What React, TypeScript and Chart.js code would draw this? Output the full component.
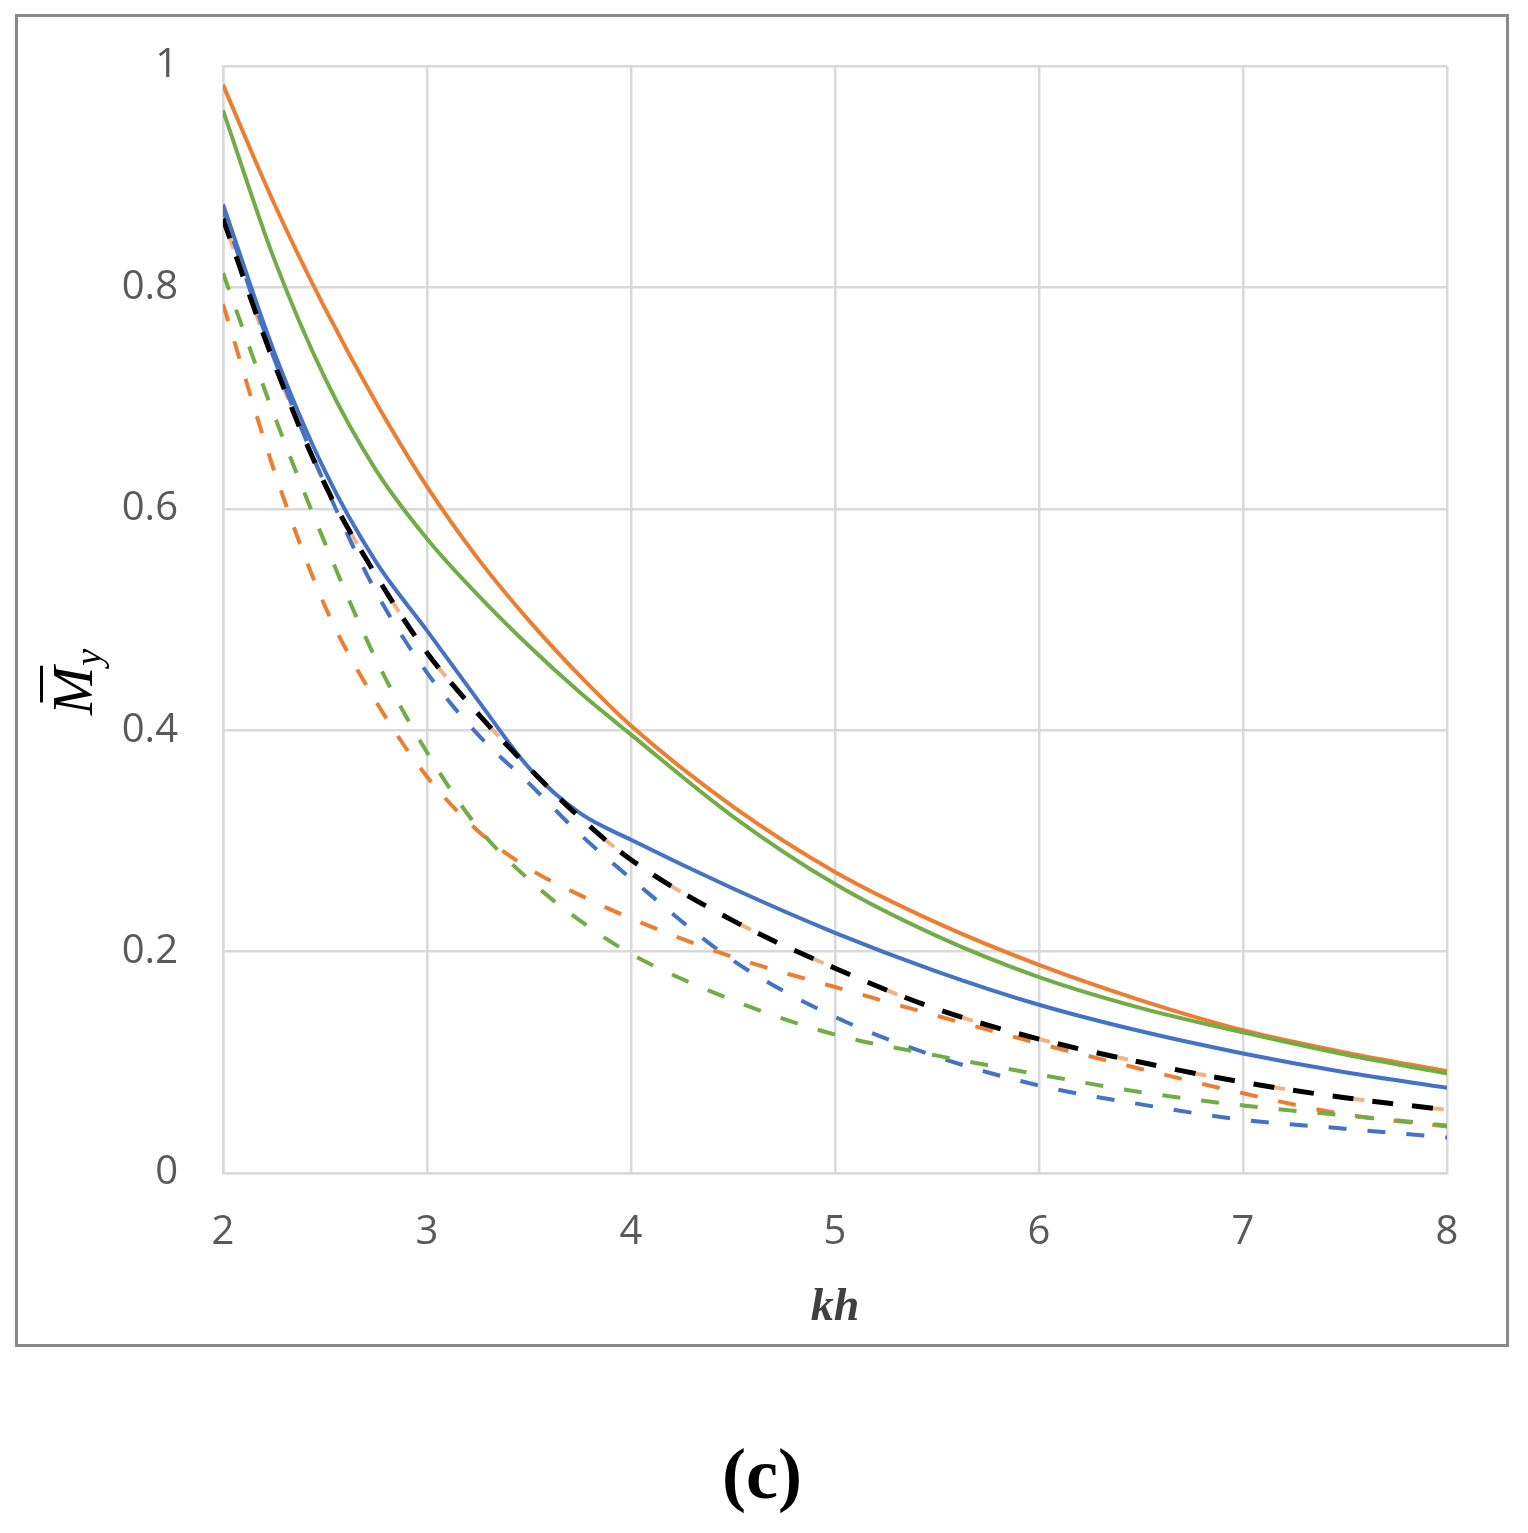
import React, { useEffect, useRef } from "react";
import { Chart, registerables } from "chart.js";

Chart.register(...registerables);

// kh values (x axis)
const khValues = [2, 2.25, 2.5, 2.75, 3, 3.25, 3.5, 3.75, 4, 4.5, 5, 5.5, 6, 6.5, 7, 7.5, 8];

// Solid curves
const solidOrange = [0.983, 0.876, 0.781, 0.696, 0.62, 0.555, 0.499, 0.449, 0.404, 0.331, 0.272, 0.226, 0.188, 0.156, 0.129, 0.109, 0.092];
const solidGreen = [0.96, 0.826, 0.718, 0.635, 0.573, 0.522, 0.476, 0.434, 0.396, 0.322, 0.261, 0.214, 0.177, 0.149, 0.127, 0.107, 0.09];
const solidBlue = [0.875, 0.742, 0.634, 0.552, 0.49, 0.427, 0.366, 0.325, 0.301, 0.257, 0.217, 0.182, 0.152, 0.128, 0.108, 0.091, 0.077];

// Dashed curves
const dashedBlack = [0.862, 0.732, 0.622, 0.54, 0.47, 0.415, 0.366, 0.321, 0.283, 0.228, 0.185, 0.148, 0.121, 0.1, 0.082, 0.068, 0.057];
const dashedBlue = [0.87, 0.736, 0.622, 0.525, 0.452, 0.396, 0.352, 0.306, 0.266, 0.192, 0.141, 0.105, 0.079, 0.062, 0.048, 0.04, 0.032];
const dashedOrange = [0.785, 0.635, 0.512, 0.426, 0.358, 0.309, 0.275, 0.251, 0.23, 0.195, 0.168, 0.142, 0.117, 0.094, 0.072, 0.053, 0.042];
const dashedGreen = [0.813, 0.685, 0.569, 0.464, 0.38, 0.312, 0.265, 0.228, 0.198, 0.156, 0.125, 0.106, 0.089, 0.073, 0.061, 0.052, 0.043];
const dashedSalmon = [0.862, 0.732, 0.622, 0.54, 0.47, 0.415, 0.366, 0.321, 0.283, 0.228, 0.185, 0.148, 0.121, 0.1, 0.082, 0.068, 0.057];

const xTickValues = [2, 3, 4, 5, 6, 7, 8];
const yTickLabels = ["0", "0.2", "0.4", "0.6", "0.8", "1"];

const xTitle = "kh";
const yTitleMain = "M";
const yTitleSub = "y";

const pts = (ys: number[]) => ys.map((y, i) => ({ x: khValues[i], y }));

const titlePlugin = {
  id: "axisTitles",
  afterDraw(chart: any) {
    const ctx = chart.ctx as CanvasRenderingContext2D;
    const area = chart.chartArea;
    ctx.save();
    ctx.fillStyle = "#404040";
    ctx.font = "italic bold 46px 'Liberation Serif', serif";
    ctx.textAlign = "center";
    ctx.textBaseline = "alphabetic";
    ctx.fillText(xTitle, (area.left + area.right) / 2, 1303);
    ctx.restore();

    ctx.save();
    ctx.translate(74, 698);
    ctx.rotate(-Math.PI / 2);
    ctx.fillStyle = "#000000";
    ctx.font = "italic 58px 'Liberation Serif', serif";
    ctx.textAlign = "left";
    ctx.textBaseline = "alphabetic";
    ctx.fillText(yTitleMain, 0, 0);
    const w = ctx.measureText(yTitleMain).width;
    ctx.fillRect(w * 0.26, -52, w * 0.76, 3);
    ctx.font = "italic 38px 'Liberation Serif', serif";
    ctx.fillText(yTitleSub, w + 1, 9);
    ctx.restore();
  },
};

export default function App() {
  const canvasRef = useRef<HTMLCanvasElement | null>(null);

  useEffect(() => {
    if (!canvasRef.current) return;
    const colDash = [18, 21];
    const base = {
      pointRadius: 0,
      pointHoverRadius: 0,
      fill: false,
      cubicInterpolationMode: "monotone" as const,
      borderCapStyle: "butt" as const,
    };
    const chart = new Chart(canvasRef.current, {
      type: "line",
      data: {
        datasets: [
          { ...base, label: "Dashed black", data: pts(dashedBlack), borderColor: "#000000", borderWidth: 5, borderDash: [21, 19] },
          { ...base, label: "Solid green", data: pts(solidGreen), borderColor: "#70AD47", borderWidth: 4 },
          { ...base, label: "Solid orange", data: pts(solidOrange), borderColor: "#ED7D31", borderWidth: 4 },
          { ...base, label: "Solid blue", data: pts(solidBlue), borderColor: "#4472C4", borderWidth: 4 },
          { ...base, label: "Dashed green", data: pts(dashedGreen), borderColor: "#70AD47", borderWidth: 4, borderDash: colDash },
          { ...base, label: "Dashed orange", data: pts(dashedOrange), borderColor: "#ED7D31", borderWidth: 4, borderDash: colDash },
          { ...base, label: "Dashed blue", data: pts(dashedBlue), borderColor: "#4472C4", borderWidth: 4, borderDash: colDash, borderDashOffset: 6 },
          { ...base, label: "Dashed light orange", data: pts(dashedSalmon), borderColor: "#F4B183", borderWidth: 4, borderDash: [12, 68], borderDashOffset: -20 },
        ],
      },
      options: {
        responsive: false,
        animation: false,
        devicePixelRatio: 1,
        layout: { padding: { left: 0, right: 59, top: 49, bottom: 0 } },
        plugins: { legend: { display: false }, tooltip: { enabled: false } },
        scales: {
          x: {
            type: "linear",
            min: 2,
            max: 8,
            afterBuildTicks: (scale: any) => {
              scale.ticks = xTickValues.map((v) => ({ value: v }));
            },
            afterFit: (scale: any) => {
              scale.height = 171;
            },
            ticks: {
              color: "#595959",
              font: { family: "'Open Sans', sans-serif", size: 40 },
              padding: 0,
              maxRotation: 0,
              callback: (v: any) => String(v),
            },
            grid: { color: "#d9d9d9", lineWidth: 2.5, drawTicks: true, tickLength: 36, tickColor: "rgba(0,0,0,0)" },
            border: { color: "#d9d9d9", width: 2.5 },
          },
          y: {
            type: "linear",
            min: 0,
            max: 1,
            afterBuildTicks: (scale: any) => {
              scale.ticks = yTickLabels.map((_, i) => ({ value: i * 0.2 }));
            },
            afterFit: (scale: any) => {
              scale.width = 205;
            },
            ticks: {
              color: "#595959",
              font: { family: "'Open Sans', sans-serif", size: 40 },
              padding: 0,
              callback: (_v: any, i: number) => yTickLabels[i],
            },
            grid: { color: "#d9d9d9", lineWidth: 2.5, drawTicks: true, tickLength: 45, tickColor: "rgba(0,0,0,0)" },
            border: { color: "#d9d9d9", width: 2.5 },
          },
        },
      },
      plugins: [titlePlugin],
    } as any);
    return () => chart.destroy();
  }, []);

  return (
    <div style={{ position: "relative", width: 1524, height: 1530 }}>
      <div
        style={{
          position: "absolute",
          left: 7,
          top: 6,
          width: 1494,
          height: 1333,
          border: "3px solid #898989",
          boxSizing: "border-box",
          background: "#fff",
        }}
      >
        <canvas
          ref={canvasRef}
          width={1488}
          height={1327}
          style={{ position: "absolute", left: 0, top: 0, width: 1488, height: 1327 }}
        />
      </div>
      <div
        style={{
          position: "absolute",
          left: -8,
          top: 1430,
          width: 1524,
          textAlign: "center",
          fontFamily: "'Liberation Serif', serif",
          fontWeight: "bold",
          fontSize: 72,
          lineHeight: "72px",
          color: "#000",
        }}
      >
        (c)
      </div>
    </div>
  );
}
